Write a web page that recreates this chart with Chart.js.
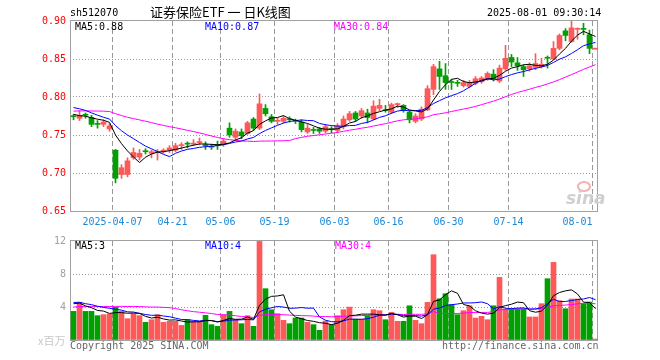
<!DOCTYPE html>
<html>
<head>
<meta charset="utf-8">
<script src="https://cdn.jsdelivr.net/npm/chart.js@4.4.1/dist/chart.umd.min.js"></script>
<style>
  html, body { margin: 0; padding: 0; background: #fff; }
  #wrap { position: relative; width: 660px; height: 360px; overflow: hidden;
    font-family: "DejaVu Sans Mono", monospace; font-size: 10px; line-height: 10px; }
  #wrap canvas { position: absolute; left: 0; top: 0; }
  .t { position: absolute; white-space: pre; }
  .eye { position: absolute; left: 577px; top: 181px; width: 10px; height: 7px;
    border: 2px solid #f2b2b2; border-radius: 50%; }
</style>
</head>
<body>
<div id="wrap">
  <canvas id="kChart" width="660" height="360"></canvas>
  <canvas id="volChart" width="660" height="360"></canvas>

  <div class="t" style="left:70px;top:8px;color:#000">sh512070</div>
  <div class="t" style="left:150px;top:5px;font:13px/14px 'Noto Sans CJK SC',sans-serif;color:#000">证券保险ETF 一 日K线图</div>
  <div class="t" style="left:487px;top:8px;color:#000">2025-08-01 09:30:14</div>

  <div class="t" style="left:75px;top:22px;color:#000">MA5:0.88</div>
  <div class="t" style="left:205px;top:22px;color:#0000ff">MA10:0.87</div>
  <div class="t" style="left:334px;top:22px;color:#ff00ff">MA30:0.84</div>

  <div class="t" style="left:75px;top:241px;color:#000">MA5:3</div>
  <div class="t" style="left:205px;top:241px;color:#0000ff">MA10:4</div>
  <div class="t" style="left:335px;top:241px;color:#ff00ff">MA30:4</div>

  <div class="eye"></div>
  <div class="t" style="left:566px;top:190px;font:italic bold 17px/17px 'DejaVu Sans',sans-serif;color:#cfcfcf">sina</div>

  <div class="t" style="left:38px;top:335px;font:11px/11px 'Noto Sans CJK SC',sans-serif;color:#c8c8c8">x百万</div>
  <div class="t" style="left:70px;top:341px;color:#666">Copyright 2025 SINA.COM</div>
  <div class="t" style="left:442px;top:341px;color:#666">http://finance.sina.com.cn</div>
</div>

<script>
// daily bars, 2025-03-26 .. 2025-08-01
var opens = [
  0.775, 0.772, 0.777, 0.773, 0.765, 0.764, 0.758, 0.730, 0.698, 0.698,
  0.720, 0.721, 0.729, 0.726, 0.727, 0.728, 0.730, 0.730, 0.736, 0.739,
  0.738, 0.740, 0.737, 0.735, 0.737, 0.738, 0.759, 0.747, 0.754, 0.752,
  0.771, 0.759, 0.785, 0.774, 0.768, 0.768, 0.771, 0.769, 0.767, 0.754,
  0.757, 0.758, 0.755, 0.758, 0.756, 0.761, 0.770, 0.779, 0.775, 0.779,
  0.771, 0.785, 0.783, 0.780, 0.790, 0.789, 0.780, 0.768, 0.771, 0.783,
  0.810, 0.837, 0.828, 0.820, 0.819, 0.815, 0.814, 0.818, 0.820, 0.824,
  0.830, 0.821, 0.837, 0.852, 0.845, 0.840, 0.837, 0.839, 0.840, 0.852,
  0.850, 0.864, 0.887, 0.873, 0.889, 0.890, 0.882, 0.863
];
var highs = [
  0.777, 0.782, 0.779, 0.776, 0.769, 0.770, 0.765, 0.731, 0.711, 0.720,
  0.733, 0.731, 0.732, 0.730, 0.731, 0.732, 0.736, 0.739, 0.740, 0.741,
  0.744, 0.746, 0.741, 0.738, 0.742, 0.745, 0.766, 0.758, 0.758, 0.768,
  0.773, 0.804, 0.790, 0.777, 0.772, 0.775, 0.774, 0.771, 0.770, 0.764,
  0.760, 0.760, 0.764, 0.761, 0.765, 0.775, 0.781, 0.781, 0.785, 0.784,
  0.795, 0.797, 0.789, 0.792, 0.792, 0.790, 0.782, 0.778, 0.787, 0.815,
  0.843, 0.847, 0.844, 0.823, 0.822, 0.822, 0.822, 0.827, 0.827, 0.833,
  0.836, 0.842, 0.868, 0.856, 0.852, 0.842, 0.845, 0.857, 0.851, 0.854,
  0.873, 0.883, 0.890, 0.900, 0.891, 0.897, 0.888, 0.864
];
var lows = [
  0.770, 0.769, 0.772, 0.761, 0.759, 0.761, 0.755, 0.687, 0.693, 0.695,
  0.718, 0.717, 0.725, 0.720, 0.717, 0.726, 0.727, 0.728, 0.731, 0.733,
  0.736, 0.737, 0.731, 0.731, 0.731, 0.735, 0.747, 0.744, 0.745, 0.751,
  0.756, 0.757, 0.775, 0.766, 0.764, 0.766, 0.767, 0.765, 0.754, 0.752,
  0.752, 0.752, 0.753, 0.753, 0.753, 0.758, 0.768, 0.768, 0.772, 0.766,
  0.770, 0.782, 0.780, 0.778, 0.786, 0.780, 0.766, 0.766, 0.769, 0.782,
  0.803, 0.810, 0.810, 0.810, 0.814, 0.813, 0.812, 0.816, 0.818, 0.822,
  0.821, 0.819, 0.835, 0.840, 0.835, 0.827, 0.834, 0.836, 0.838, 0.838,
  0.849, 0.862, 0.874, 0.872, 0.876, 0.882, 0.857, 0.863
];
var closes = [
  0.774, 0.776, 0.776, 0.764, 0.764, 0.767, 0.762, 0.693, 0.707, 0.716,
  0.727, 0.726, 0.728, 0.728, 0.728, 0.730, 0.733, 0.736, 0.737, 0.738,
  0.739, 0.741, 0.736, 0.734, 0.736, 0.742, 0.750, 0.755, 0.749, 0.766,
  0.759, 0.791, 0.778, 0.768, 0.769, 0.772, 0.770, 0.768, 0.757, 0.759,
  0.756, 0.755, 0.761, 0.757, 0.762, 0.771, 0.778, 0.771, 0.782, 0.773,
  0.788, 0.789, 0.782, 0.790, 0.791, 0.782, 0.770, 0.775, 0.784, 0.811,
  0.840, 0.827, 0.819, 0.819, 0.818, 0.819, 0.819, 0.824, 0.825, 0.831,
  0.824, 0.838, 0.851, 0.846, 0.841, 0.836, 0.841, 0.844, 0.843, 0.851,
  0.864, 0.881, 0.881, 0.891, 0.890, 0.889, 0.864, 0.864
];
// volume, 百万
var volumes = [
  3.47, 4.56, 3.47, 3.47, 2.95, 3.07, 3.15, 3.96, 3.47, 2.58,
  3.19, 2.95, 2.14, 2.46, 3.07, 2.14, 2.26, 2.26, 1.77, 2.46,
  2.26, 2.26, 2.99, 1.86, 1.66, 3.07, 3.47, 2.46, 1.98, 2.95,
  1.66, 11.95, 6.22, 3.67, 3.19, 2.38, 1.98, 2.66, 2.66, 2.14,
  1.86, 1.17, 2.30, 1.86, 2.95, 3.67, 3.99, 2.54, 2.54, 2.95,
  3.67, 3.55, 2.46, 3.35, 2.26, 2.26, 4.15, 2.38, 1.98, 4.56,
  10.34, 5.00, 5.61, 4.28, 3.07, 3.55, 4.15, 2.66, 2.87, 2.46,
  4.15, 7.59, 3.75, 3.75, 3.75, 3.75, 2.79, 2.79, 4.40, 7.43,
  9.41, 4.77, 3.79, 4.97, 4.97, 4.40, 4.60, 0.10
];
// sessions before the window (only feed the moving averages)
var histClose = [
  0.768, 0.772, 0.770, 0.766, 0.772, 0.775, 0.778, 0.782, 0.785, 0.780,
  0.776, 0.779, 0.784, 0.788, 0.783, 0.779, 0.781, 0.785, 0.790, 0.788,
  0.792, 0.798, 0.796, 0.794, 0.795, 0.785, 0.779, 0.775, 0.773
];
var histVol = [
  3.0, 3.4, 2.8, 3.3, 3.5, 3.0, 3.2, 3.6, 3.1, 2.9,
  3.3, 3.4, 3.0, 3.2, 3.3, 3.2, 5.5, 6.4, 5.9, 5.5,
  4.3, 5.2, 4.6, 4.9, 4.5, 4.2, 5.1, 4.6, 4.6
];

var tickIdx = [7, 17, 25, 34, 44, 53, 63, 73, 87];
var tickText = ["2025-04-07", "04-21", "05-06", "05-19", "06-03", "06-16", "06-30", "07-14", "08-01"];
var priceTicks = [0.65, 0.70, 0.75, 0.80, 0.85, 0.90];
var volTicks = [0, 4, 8, 12];

var UP = "#ff5858", DOWN = "#00a000";
var MONO = '"DejaVu Sans Mono", monospace';

function movingAvg(hist, vals, n) {
  var all = hist.concat(vals);
  return vals.map(function (_, i) {
    var s = 0;
    for (var k = 0; k < n; k++) s += all[i + hist.length - k];
    return s / n;
  });
}

function pts(arr) {
  return arr.map(function (v, i) { return { x: i + 0.5, y: v }; });
}

var candleColor = closes.map(function (c, i) { return c >= opens[i] ? UP : DOWN; });
var N = closes.length;

function maLine(data, color) {
  return {
    type: "line", data: pts(data), borderColor: color, borderWidth: 1,
    pointRadius: 0, tension: 0, order: 0
  };
}

var framePlugin = {
  id: "frame",
  beforeDatasetsDraw: function (chart) {
    var a = chart.chartArea, ctx = chart.ctx;
    ctx.save();
    ctx.strokeStyle = "#a0a0a0";
    ctx.lineWidth = 1;
    ctx.strokeRect(a.left + 0.5, a.top - 0.5, a.right - a.left - 1, a.bottom - a.top + 1);
    ctx.restore();
  }
};

function xScale(showLabels) {
  return {
    type: "linear",
    offset: false,
    min: -1 / 12,
    max: N - 1 / 12,
    afterBuildTicks: function (axis) {
      axis.ticks = tickIdx.map(function (v) { return { value: v }; });
    },
    afterFit: showLabels ? function (s) { s.height = 20; } : function (s) { s.height = 0; },
    grid: { display: true, drawOnChartArea: true, color: "#999999", lineWidth: 1, drawTicks: false, offset: false },
    border: { display: false, dash: [5, 3] },
    ticks: {
      display: showLabels,
      autoSkip: false,
      maxRotation: 0,
      padding: 5,
      color: "#1e88d8",
      font: { family: MONO, size: 10 },
      callback: function (v, i) {
        // last date sits left of its grid line, as in the source
        return i === tickIdx.length - 1 ? tickText[i] + "     " : tickText[i];
      }
    }
  };
}

function yScale(min, max, ticks, color, fmt) {
  return {
    min: min,
    max: max,
    afterBuildTicks: function (axis) {
      axis.ticks = ticks.map(function (v) { return { value: v }; });
    },
    afterFit: function (s) { s.width = 70; },
    grid: {
      display: true,
      drawOnChartArea: true,
      drawTicks: false,
      lineWidth: 1,
      color: function (ctx) {
        var v = ctx.tick ? ctx.tick.value : min;
        return (Math.abs(v - min) < 1e-9 || Math.abs(v - max) < 1e-9) ? "rgba(0,0,0,0)" : "#999999";
      }
    },
    border: { display: false, dash: [1, 2] },
    ticks: { padding: 4, color: color, font: { family: MONO, size: 10 }, callback: fmt }
  };
}

var common = {
  responsive: false,
  animation: false,
  events: [],
  plugins: { legend: { display: false }, tooltip: { enabled: false } }
};

new Chart(document.getElementById("kChart").getContext("2d"), {
  type: "bar",
  data: {
    datasets: [
      maLine(movingAvg(histClose, closes, 5), "#000000"),
      maLine(movingAvg(histClose, closes, 10), "#0000ff"),
      maLine(movingAvg(histClose, closes, 30), "#ff00ff"),
      {
        data: closes.map(function (c, i) { return { x: i + 0.5, y: [opens[i], c] }; }),
        backgroundColor: candleColor, barThickness: 5, minBarLength: 1,
        grouped: false, order: 1
      },
      {
        data: closes.map(function (c, i) { return { x: i + 0.5, y: [lows[i], highs[i]] }; }),
        backgroundColor: candleColor, barThickness: 1,
        grouped: false, order: 2
      }
    ]
  },
  options: Object.assign({}, common, {
    layout: { padding: { left: 0, right: 62, top: 21, bottom: 129 } },
    scales: {
      x: xScale(true),
      y: yScale(0.65, 0.90, priceTicks, "#ff0000", function (v) { return v.toFixed(2); })
    }
  }),
  plugins: [framePlugin]
});

new Chart(document.getElementById("volChart").getContext("2d"), {
  type: "bar",
  data: {
    datasets: [
      maLine(movingAvg(histVol, volumes, 5), "#000000"),
      maLine(movingAvg(histVol, volumes, 10), "#0000ff"),
      maLine(movingAvg(histVol, volumes, 30), "#ff00ff"),
      {
        data: pts(volumes),
        backgroundColor: candleColor, barThickness: 5, minBarLength: 1,
        grouped: false, order: 1
      }
    ]
  },
  options: Object.assign({}, common, {
    layout: { padding: { left: 0, right: 62, top: 241, bottom: 20 } },
    scales: {
      x: xScale(false),
      y: yScale(0, 12, volTicks, "#a0a0a0", function (v) { return v === 0 ? "" : String(v); })
    }
  }),
  plugins: [framePlugin]
});
</script>
</body>
</html>
